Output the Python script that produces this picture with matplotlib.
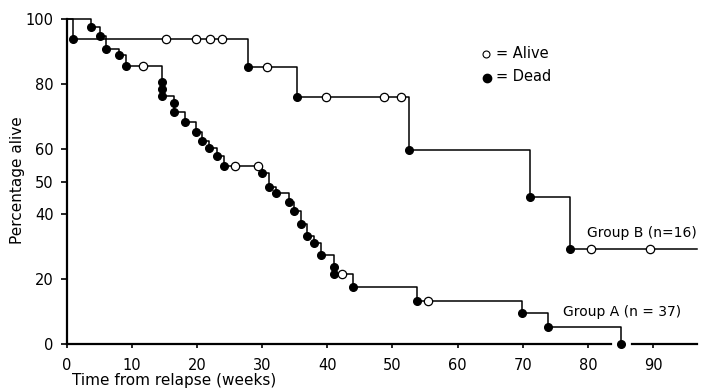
import matplotlib
matplotlib.use("Agg")
import matplotlib.pyplot as plt
import numpy as np

# survival data (weeks, percentage alive)
# Group B (n=16)
b_death_t = [1.0, 27.9, 35.3, 52.5, 71.1, 77.3]
b_death_s = [93.8, 85.2, 76.2, 59.7, 45.2, 29.3]
b_cens_t = [15.3, 19.9, 22.0, 23.9, 30.7, 39.8, 48.7, 51.3, 80.5, 89.5]
b_end = 96.7

# Group A (n=37)
a_death_t = [3.8, 5.1, 6.1, 8.0, 9.05, 14.7, 14.7, 14.7, 16.5, 16.5, 18.1,
             19.8, 20.7, 21.9, 23.0, 24.2, 30.0, 31.0, 32.2, 34.1, 34.9,
             36.0, 36.9, 38.0, 39.1, 41.0, 41.0, 44.0, 53.8, 69.8, 73.8, 85.0]
a_death_s = [97.5, 94.9, 90.9, 89.0, 85.7, 80.6, 78.5, 76.5, 74.1, 71.5, 68.5,
             65.2, 62.6, 60.3, 58.0, 54.9, 52.6, 48.4, 46.4, 43.8, 41.1,
             37.0, 33.4, 31.1, 27.3, 23.6, 21.6, 17.6, 13.3, 9.4, 5.3, 0.0]
a_cens_t = [11.75, 25.8, 29.4, 42.3, 55.4]

y_ticks = [0, 20, 40, 50, 60, 80, 100]
x_ticks = [0, 10, 20, 30, 40, 50, 60, 70, 80, 90]

plt.rcParams['font.family'] = 'DejaVu Sans'

fig = plt.figure(figsize=(7.01, 3.89), dpi=100)
ax = fig.add_axes([0.0951, 0.1157, 0.8989, 0.8347])


def level_at(t, death_t, death_s):
    # survival level of the step curve at time t
    i = np.searchsorted(death_t, t, side='right')
    return 100.0 if i == 0 else death_s[i - 1]


def draw_group(death_t, death_s, cens_t, end=None):
    xs = [0] + list(death_t)
    ys = [100] + list(death_s)
    if end is not None:
        xs.append(end)
        ys.append(death_s[-1])
    ax.step(xs, ys, where='post', color='black', lw=1.1, clip_on=False, zorder=2)
    ax.plot(death_t, death_s, 'o', color='black', ms=5.5, clip_on=False, zorder=3)
    cy = [level_at(t, death_t, death_s) for t in cens_t]
    ax.plot(cens_t, cy, 'o', mfc='white', mec='black', mew=0.9, ms=6,
            clip_on=False, zorder=4)


draw_group(b_death_t, b_death_s, b_cens_t, b_end)
draw_group(a_death_t, a_death_s, a_cens_t)

ax.set_xlim(0, 96.7)
ax.set_ylim(0, 100)

ax.spines['top'].set_visible(False)
ax.spines['right'].set_visible(False)
ax.spines['bottom'].set_visible(False)
ax.spines['left'].set_linewidth(1.6)

# broken x axis line
xt = ax.get_xaxis_transform()
ax.plot([0, 83.6], [0, 0], color='black', lw=1.6, transform=xt, clip_on=False, zorder=1)
ax.plot([86.8, 96.7], [0, 0], color='black', lw=1.6, transform=xt, clip_on=False, zorder=1)

ax.set_yticks(y_ticks)
ax.set_xticks(x_ticks)
ax.tick_params(axis='y', length=4.5, width=1.2, pad=5, labelsize=10.5)
ax.tick_params(axis='x', length=3, width=1.2, pad=7, labelsize=10.5)

# legend drawn by hand
ax.plot([64.4], [89.2], 'o', mfc='white', mec='black', mew=0.8, ms=5)
ax.plot([64.5], [82.0], 'o', color='black', ms=6)
ax.text(65.9, 89.5, "= Alive", fontsize=10.5, va='center', ha='left')
ax.text(65.9, 82.4, "= Dead", fontsize=10.5, va='center', ha='left')

ax.text(79.9, 34.1, "Group B (n=16)", fontsize=10, va='center', ha='left')
ax.text(76.2, 9.95, "Group A (n = 37)", fontsize=10, va='center', ha='left')

fig.text(174 / 701, 1 - 381 / 389, "Time from relapse (weeks)", fontsize=11,
         ha='center', va='center')
fig.text(18 / 701, 1 - 180 / 389, "Percentage alive", fontsize=11,
         ha='center', va='center', rotation=90)

fig.savefig("out.png", dpi=100)
